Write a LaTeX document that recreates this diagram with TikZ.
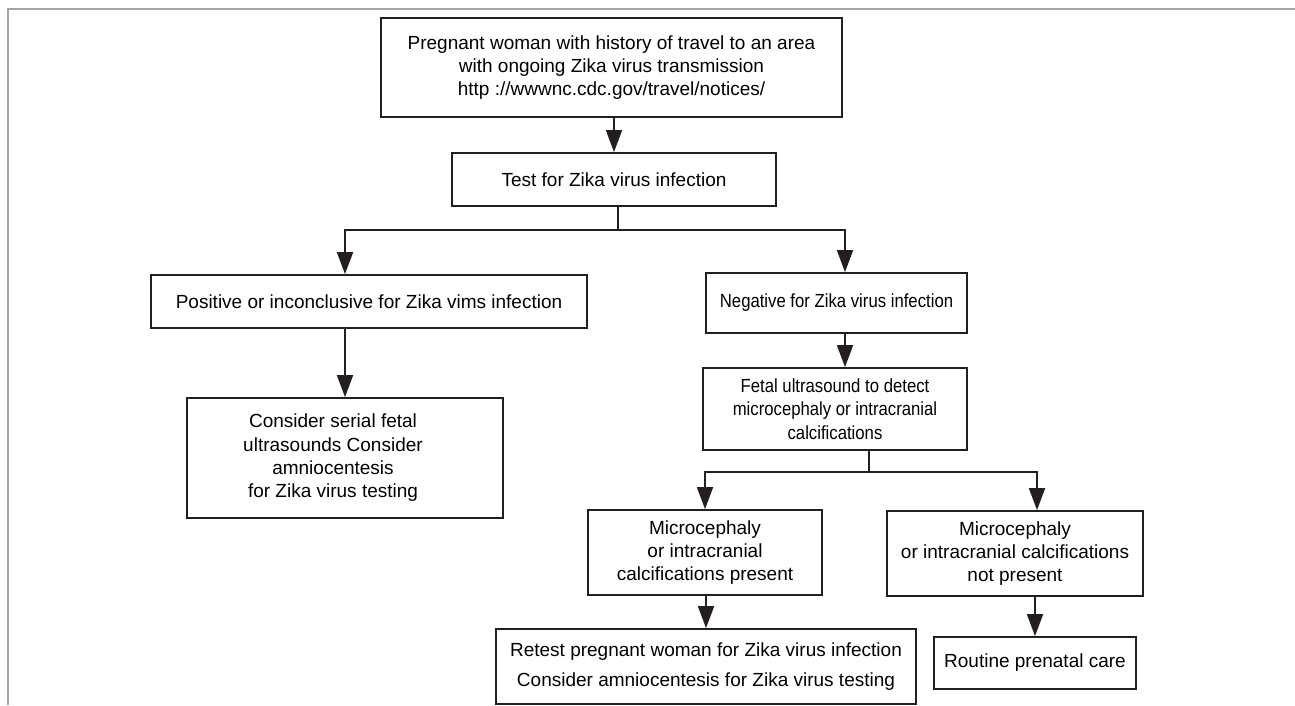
\documentclass[tikz,border=0pt]{standalone}
\usepackage{fontspec}
\setmainfont{Liberation Sans}
\newfontfamily\narrowfont[FakeStretch=0.88]{Liberation Sans}
\usetikzlibrary{arrows.meta}
\definecolor{ink}{HTML}{231F20}

\begin{document}
\begin{tikzpicture}[x=1pt,y=-1pt,
	box/.style={draw=ink,line width=1.8pt,inner sep=0pt,align=center,
		font=\fontsize{19}{23.3}\selectfont},
	narrow/.style={font=\narrowfont\fontsize{19}{23.3}\selectfont},
	arr/.style={draw=ink,line width=1.8pt,-{Triangle[length=22pt,width=16pt]}}]
	\useasboundingbox (0,0) rectangle (1295,705);
	\draw[gray!70,line width=1.3pt] (8,705) -- (8,9) -- (1295,9);
	
	\node[box,minimum width=461pt,minimum height=99pt] at (611.5,67.5) (A)
	{Pregnant woman with history of travel to an area\\
		with ongoing Zika virus transmission\\
		http ://wwwnc.cdc.gov/travel/notices/};
	\node[box,minimum width=324pt,minimum height=53pt] at (614,179.5) (B)
	{Test for Zika virus infection};
	
	\node[box,minimum width=436pt,minimum height=53pt] at (369,301.5) (C)
	{Positive or inconclusive for Zika vims infection};
	\node[box,minimum width=316pt,minimum height=120pt] at (345,458) (F)
	{\hspace*{-24pt}\begin{tabular}{@{}c@{}}Consider serial fetal\\ ultrasounds Consider\\
		amniocentesis\\ for Zika virus testing\end{tabular}};
	
	\node[box,narrow,minimum width=261pt,minimum height=60pt] at (836.5,303) (D)
	{Negative for Zika virus infection};
	\node[box,narrow,minimum width=264pt,minimum height=82pt] at (835,409) (E)
	{Fetal ultrasound to detect\\ microcephaly or intracranial\\ calcifications};
	
	\node[box,minimum width=234pt,minimum height=85pt] at (705,552.5) (G)
	{Microcephaly\\ or intracranial\\ calcifications present};
	\node[box,minimum width=256pt,minimum height=85pt] at (1015,553.5) (H)
	{Microcephaly\\ or intracranial calcifications\\ not present};
	\node[box,minimum width=420pt,minimum height=75pt] at (706,666.5) (I)
	{Retest pregnant woman for Zika virus infection\\[6.7pt]
		Consider amniocentesis for Zika virus testing};
	\node[box,minimum width=202pt,minimum height=52pt] at (1035,663) (J)
	{Routine prenatal care};
	
	\draw[arr] (B.north |- A.south) -- (B.north);
	\draw[arr] ([xshift=4pt]B.south) -- ++(0,23) -| ([xshift=-24pt]C.north);
	\draw[arr] ([xshift=4pt]B.south) -- ++(0,23) -| ([xshift=8.5pt]D.north);
	\draw[arr] (F.north |- C.south) -- (F.north);
	\draw[arr] ([xshift=8.5pt]D.south) -- ([xshift=10pt]E.north);
	\draw[arr] ([xshift=34pt]E.south) -- ++(0,21) -| (G.north);
	\draw[arr] ([xshift=34pt]E.south) -- ++(0,21) -| ([xshift=22pt]H.north);
	\draw[arr] (I.north |- G.south) -- (I.north);
	\draw[arr] (J.north |- H.south) -- (J.north);
\end{tikzpicture}
\end{document}
